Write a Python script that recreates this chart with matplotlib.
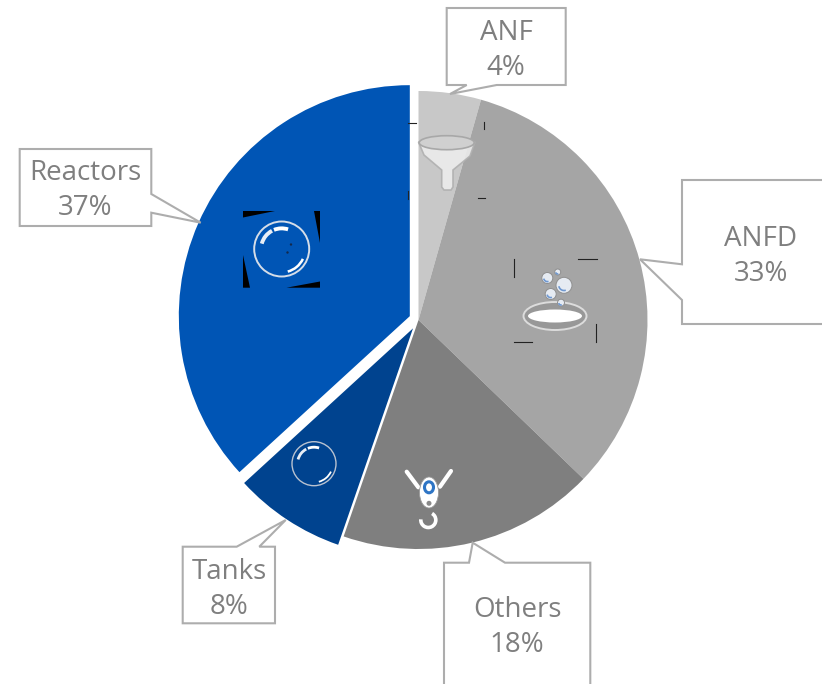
import numpy as np
import matplotlib
matplotlib.use("Agg")
import matplotlib.pyplot as plt
from matplotlib.patches import Polygon, Circle, Ellipse, Arc

categories = ["ANF", "ANFD", "Others", "Tanks", "Reactors"]
shares = [4.4, 32.8, 18.1, 7.9, 36.8]
colors = ["#c8c8c8", "#a5a5a5", "#7f7f7f", "#00438f", "#0055b5"]
explode_px = [0, 0, 0, 10, 9.5]

W, H = 822, 684
plt.rcParams["font.family"] = ["Open Sans", "DejaVu Sans"]
fig = plt.figure(figsize=(W / 100, H / 100), dpi=100)
ax = fig.add_axes([0, 0, 1, 1])

def P(x, y):
    return (x, H - y)

wedges, _ = ax.pie(shares, colors=colors, explode=explode_px, center=P(418.5, 320), radius=229,
                   startangle=90, counterclock=False, frame=False, normalize=True)
wedges[4].set_radius(231)
ax.set_aspect("equal")
ax.set_xlim(0, W)
ax.set_ylim(0, H)
ax.axis("off")

# callouts: outline in pixel layout coordinates
callouts = {
    "ANF": ([(446.7, 8), (565.7, 8), (565.7, 85), (496.7, 85), (450, 94), (466.7, 85), (446.7, 85)], (506, 33)),
    "ANFD": ([(682, 180), (840, 180), (840, 324), (682, 324), (682, 300), (640, 259.3), (682, 264.3)], (761, 239)),
    "Others": ([(444, 562.7), (469, 562.7), (472.7, 542.7), (505, 562.7), (590.3, 562.7), (590.3, 700), (444, 700)], (517, 610)),
    "Tanks": ([(182.7, 546.7), (236.7, 546.7), (285.7, 520), (259.3, 546.7), (275, 546.7), (275, 623.3), (182.7, 623.3)], (229, 572)),
    "Reactors": ([(19.7, 149), (151.3, 149), (151.3, 194), (200.7, 222.7), (151.3, 212.7), (151.3, 226), (19.7, 226)], (85, 173)),
}
for name, share in zip(categories, shares):
    outline, (tx, ty) = callouts[name]
    ax.add_patch(Polygon([P(*p) for p in outline], closed=True, fc="white", ec="#adadad",
                         lw=1.5, zorder=5, joinstyle="miter"))
    ax.text(*P(tx, ty), name, ha="center", va="center", fontsize=20, color="#7f7f7f", zorder=6)
    ax.text(*P(tx, ty + 35), f"{round(share)}%", ha="center", va="center", fontsize=20,
            color="#7f7f7f", zorder=6)

# black corners of the reactors picture
for tri in [[(243, 211), (275, 211), (243, 217.5)],
            [(313.5, 211), (320, 211), (320, 243)],
            [(320, 287.7), (320, 281.5), (286.5, 287.7)],
            [(243, 287.7), (243, 255), (250, 287.7)]]:
    ax.add_patch(Polygon([P(*p) for p in tri], fc="black", ec="none", zorder=3))

def bubble(cx, cy, r, ring, lw):
    c = P(cx, cy)
    ax.add_patch(Circle(c, r, fc="none", ec=ring, lw=lw, zorder=4))
    ax.add_patch(Arc(c, 1.5 * r, 1.5 * r, theta1=72, theta2=112, ec="white", lw=lw * 2.0, zorder=4))
    ax.add_patch(Arc(c, 1.5 * r, 1.5 * r, theta1=118, theta2=165, ec="#e8eef6", lw=lw * 2.0, zorder=4))
    ax.add_patch(Arc(c, 1.7 * r, 1.7 * r, theta1=285, theta2=335, ec="white", lw=lw * 1.3, zorder=4))

bubble(281.7, 249, 27.5, "#d5dde8", 1.4)
bubble(314, 463.7, 22, "#b9c2d0", 1.0)
ax.add_patch(Circle(P(291, 244.5), 1.2, fc="#13294b", ec="none", zorder=4))
ax.add_patch(Circle(P(287.5, 252.5), 1.2, fc="#13294b", ec="none", zorder=4))

# funnel
funnel = [(418.5, 142), (424, 155), (441.7, 170), (441.7, 187), (444, 190), (451, 190), (453, 187),
          (453, 170), (470, 156), (475, 142)]
ax.add_patch(Polygon([P(*p) for p in funnel], fc="#ececec", ec="#b0b0b0", lw=1.2, alpha=0.9, zorder=3))
ax.add_patch(Ellipse(P(446.7, 142.7), 55, 14, fc="#d0d0d0", ec="#a8a8a8", lw=1.2, zorder=4))

# bowl and bubbles
ax.add_patch(Ellipse(P(555, 316), 63, 28, fc="#989898", ec="#dcdcdc", lw=1.4, zorder=3))
ax.add_patch(Ellipse(P(555, 316), 54, 13, fc="white", ec="none", zorder=4))
for (bx, by, br) in [(564, 285.3, 8), (550.7, 294, 5.5), (547.3, 278, 5.5), (557.7, 272, 3), (561, 302.7, 3.5)]:
    ax.add_patch(Circle(P(bx, by), br, fc="#e6ebf2", ec="#8f8f8f", lw=0.7, zorder=4))
    ax.add_patch(Arc(P(bx, by), 1.3 * br, 1.3 * br, theta1=190, theta2=290, ec="#6f98d0", lw=1.2, zorder=4))

# hook
for (a, b) in [((406.7, 471.7), (418.3, 487.3)), ((451, 471), (440, 486.7))]:
    ax.plot(*zip(P(*a), P(*b)), color="white", lw=3, solid_capstyle="round", zorder=4)
ax.add_patch(Ellipse(P(429, 492.5), 19, 31, fc="white", ec="#9a9a9a", lw=0.6, zorder=4))
ax.add_patch(Ellipse(P(429, 487.3), 9, 11, fc="none", ec="#2e75c5", lw=2.2, zorder=5))
ax.add_patch(Circle(P(429, 503.3), 2.5, fc="#8a8a8a", ec="none", zorder=5))
ax.add_patch(Arc(P(428.3, 520), 15, 15, theta1=175, theta2=420, ec="white", lw=2.6, zorder=4))

# stray picture crop marks
for (a, b) in [((408, 122.7), (415.7, 122.7)), ((484, 121.7), (484, 129.3)), ((408.3, 191), (408.3, 199)),
               ((477.7, 198), (485, 198)), ((514.3, 259.3), (514.3, 276.7)), ((577.7, 259.3), (596.7, 259.3)),
               ((596, 324), (596, 342.3)), ((514, 342), (532.3, 342))]:
    ax.plot(*zip(P(*a), P(*b)), color="#222222", lw=0.8, zorder=4)

fig.savefig("out.png", dpi=100, facecolor="white")
